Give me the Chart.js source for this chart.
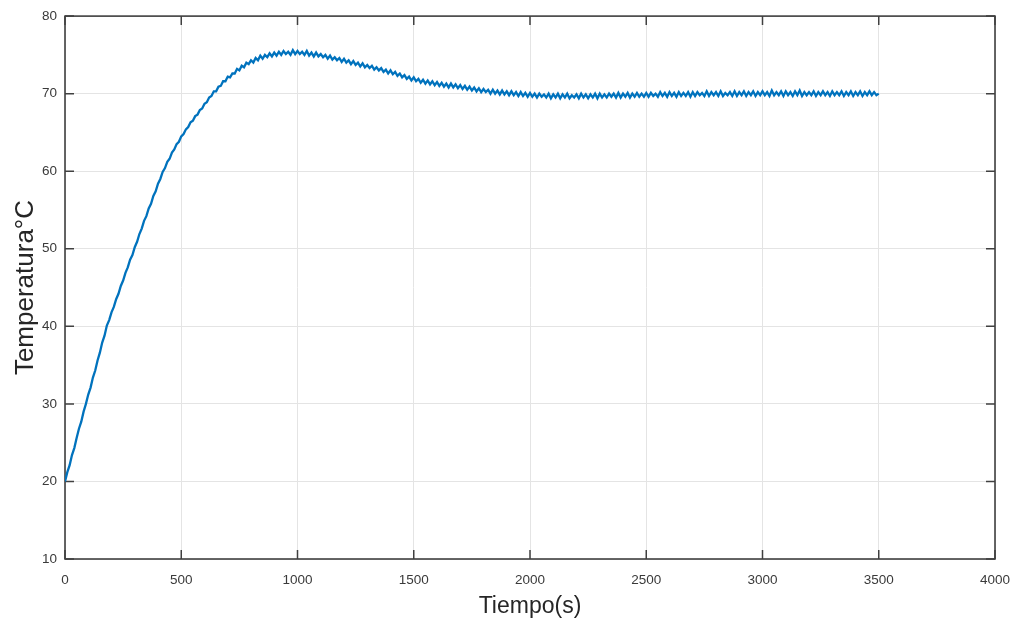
<!DOCTYPE html>
<html>
<head>
<meta charset="utf-8">
<script src="https://cdn.jsdelivr.net/npm/chart.js@4.4.1/dist/chart.umd.min.js"></script>
<style>
  html, body { margin: 0; padding: 0; background: #ffffff; }
  #wrap { width: 1013px; height: 625px; position: relative; }
</style>
</head>
<body>
<div id="wrap"><canvas id="c" width="1013" height="625"></canvas></div>
<script>
// ---- data ----
const timeSeconds = [
  0, 10, 20, 30, 40, 50, 60, 70, 80, 90,
  100, 110, 120, 130, 140, 150, 160, 170, 180, 190,
  200, 210, 220, 230, 240, 250, 260, 270, 280, 290,
  300, 310, 320, 330, 340, 350, 360, 370, 380, 390,
  400, 410, 420, 430, 440, 450, 460, 470, 480, 490,
  500, 510, 520, 530, 540, 550, 560, 570, 580, 590,
  600, 610, 620, 630, 640, 650, 660, 670, 680, 690,
  700, 710, 720, 730, 740, 750, 760, 770, 780, 790,
  800, 810, 820, 830, 840, 850, 860, 870, 880, 890,
  900, 910, 920, 930, 940, 950, 960, 970, 980, 990,
  1000, 1010, 1020, 1030, 1040, 1050, 1060, 1070, 1080, 1090,
  1100, 1110, 1120, 1130, 1140, 1150, 1160, 1170, 1180, 1190,
  1200, 1210, 1220, 1230, 1240, 1250, 1260, 1270, 1280, 1290,
  1300, 1310, 1320, 1330, 1340, 1350, 1360, 1370, 1380, 1390,
  1400, 1410, 1420, 1430, 1440, 1450, 1460, 1470, 1480, 1490,
  1500, 1510, 1520, 1530, 1540, 1550, 1560, 1570, 1580, 1590,
  1600, 1610, 1620, 1630, 1640, 1650, 1660, 1670, 1680, 1690,
  1700, 1710, 1720, 1730, 1740, 1750, 1760, 1770, 1780, 1790,
  1800, 1810, 1820, 1830, 1840, 1850, 1860, 1870, 1880, 1890,
  1900, 1910, 1920, 1930, 1940, 1950, 1960, 1970, 1980, 1990,
  2000, 2010, 2020, 2030, 2040, 2050, 2060, 2070, 2080, 2090,
  2100, 2110, 2120, 2130, 2140, 2150, 2160, 2170, 2180, 2190,
  2200, 2210, 2220, 2230, 2240, 2250, 2260, 2270, 2280, 2290,
  2300, 2310, 2320, 2330, 2340, 2350, 2360, 2370, 2380, 2390,
  2400, 2410, 2420, 2430, 2440, 2450, 2460, 2470, 2480, 2490,
  2500, 2510, 2520, 2530, 2540, 2550, 2560, 2570, 2580, 2590,
  2600, 2610, 2620, 2630, 2640, 2650, 2660, 2670, 2680, 2690,
  2700, 2710, 2720, 2730, 2740, 2750, 2760, 2770, 2780, 2790,
  2800, 2810, 2820, 2830, 2840, 2850, 2860, 2870, 2880, 2890,
  2900, 2910, 2920, 2930, 2940, 2950, 2960, 2970, 2980, 2990,
  3000, 3010, 3020, 3030, 3040, 3050, 3060, 3070, 3080, 3090,
  3100, 3110, 3120, 3130, 3140, 3150, 3160, 3170, 3180, 3190,
  3200, 3210, 3220, 3230, 3240, 3250, 3260, 3270, 3280, 3290,
  3300, 3310, 3320, 3330, 3340, 3350, 3360, 3370, 3380, 3390,
  3400, 3410, 3420, 3430, 3440, 3450, 3460, 3470, 3480, 3490,
  3500
];
const temperature = [
  20.0, 21.2, 22.1, 23.4, 24.3, 25.6, 26.8, 27.7, 29.0, 30.0,
  31.2, 32.1, 33.4, 34.3, 35.6, 36.6, 37.9, 38.8, 40.1, 40.8,
  41.8, 42.5, 43.5, 44.2, 45.2, 45.9, 46.9, 47.6, 48.6, 49.2,
  50.2, 50.9, 51.9, 52.6, 53.6, 54.2, 55.2, 55.8, 56.8, 57.4,
  58.4, 59.0, 59.9, 60.4, 61.2, 61.6, 62.4, 62.8, 63.5, 63.8,
  64.5, 64.8, 65.4, 65.7, 66.3, 66.5, 67.1, 67.3, 67.9, 68.1,
  68.7, 68.9, 69.5, 69.7, 70.3, 70.3, 70.9, 71.0, 71.6, 71.6,
  72.2, 72.1, 72.6, 72.6, 73.2, 73.0, 73.6, 73.4, 74.0, 73.8,
  74.3, 74.0, 74.6, 74.3, 74.9, 74.5, 75.0, 74.7, 75.2, 74.8,
  75.3, 74.9, 75.4, 75.0, 75.5, 75.1, 75.4, 75.0, 75.6, 75.1,
  75.5, 75.1, 75.4, 75.0, 75.5, 74.9, 75.3, 74.8, 75.3, 74.8,
  75.1, 74.7, 75.0, 74.5, 74.9, 74.4, 74.7, 74.3, 74.6, 74.1,
  74.5, 74.0, 74.3, 73.8, 74.2, 73.7, 74.0, 73.5, 73.9, 73.4,
  73.7, 73.3, 73.6, 73.1, 73.4, 73.0, 73.3, 72.8, 73.1, 72.6,
  73.0, 72.5, 72.8, 72.3, 72.6, 72.1, 72.4, 71.9, 72.2, 71.7,
  72.1, 71.6, 71.9, 71.4, 71.8, 71.3, 71.7, 71.2, 71.6, 71.1,
  71.5, 71.0, 71.4, 70.9, 71.3, 70.8, 71.3, 70.8, 71.2, 70.7,
  71.1, 70.6, 71.0, 70.5, 70.9, 70.4, 70.8, 70.3, 70.7, 70.2,
  70.6, 70.2, 70.5, 70.0, 70.5, 70.0, 70.4, 69.9, 70.4, 69.9,
  70.3, 69.8, 70.3, 69.8, 70.2, 69.7, 70.2, 69.7, 70.1, 69.6,
  70.1, 69.6, 70.0, 69.5, 70.0, 69.6, 69.9, 69.5, 70.0, 69.4,
  69.9, 69.5, 70.0, 69.4, 69.9, 69.5, 70.0, 69.4, 69.8, 69.5,
  69.9, 69.4, 70.0, 69.5, 69.9, 69.4, 69.9, 69.5, 70.0, 69.4,
  70.0, 69.5, 69.9, 69.5, 70.0, 69.6, 70.0, 69.5, 70.1, 69.5,
  70.0, 69.6, 70.1, 69.5, 70.0, 69.6, 70.1, 69.6, 70.0, 69.6,
  70.1, 69.6, 70.1, 69.7, 70.0, 69.6, 70.2, 69.7, 70.1, 69.6,
  70.2, 69.7, 70.1, 69.6, 70.2, 69.7, 70.1, 69.7, 70.2, 69.6,
  70.2, 69.7, 70.2, 69.8, 70.1, 69.7, 70.3, 69.7, 70.2, 69.8,
  70.2, 69.7, 70.3, 69.7, 70.1, 69.8, 70.2, 69.7, 70.3, 69.7,
  70.2, 69.8, 70.3, 69.7, 70.2, 69.8, 70.3, 69.7, 70.2, 69.8,
  70.3, 69.8, 70.2, 69.7, 70.4, 69.8, 70.2, 69.8, 70.3, 69.7,
  70.3, 69.8, 70.2, 69.7, 70.3, 69.8, 70.4, 69.7, 70.2, 69.8,
  70.2, 69.8, 70.3, 69.7, 70.2, 69.8, 70.3, 69.8, 70.2, 69.7,
  70.3, 69.8, 70.2, 69.8, 70.3, 69.7, 70.2, 69.8, 70.3, 69.7,
  70.2, 69.8, 70.3, 69.7, 70.2, 69.8, 70.3, 69.8, 70.2, 69.8,
  70.0
];
const xTicks = [0, 500, 1000, 1500, 2000, 2500, 3000, 3500, 4000];
const yTicks = [10, 20, 30, 40, 50, 60, 70, 80];
const xTitle = 'Tiempo(s)';
const yTitle = 'Temperatura°C';

// ---- styling ----
const FONT = '"Liberation Sans", Arial, Helvetica, sans-serif';
const AXIS_COLOR = '#404040';
const TICK_TEXT = '#3a3a3a';
const GRID_COLOR = '#e4e4e4';
const LINE_COLOR = '#0072BD';

const boxPlugin = {
  id: 'matlabBox',
  beforeDatasetsDraw(chart) {
    const { ctx, chartArea: a, scales } = chart;
    const len = 9;
    ctx.save();
    ctx.strokeStyle = AXIS_COLOR;
    ctx.lineWidth = 1.5;
    ctx.beginPath();
    xTicks.forEach(v => {
      const px = scales.x.getPixelForValue(v);
      ctx.moveTo(px, a.bottom); ctx.lineTo(px, a.bottom - len);
      ctx.moveTo(px, a.top); ctx.lineTo(px, a.top + len);
    });
    yTicks.forEach(v => {
      const py = scales.y.getPixelForValue(v);
      ctx.moveTo(a.left, py); ctx.lineTo(a.left + len, py);
      ctx.moveTo(a.right, py); ctx.lineTo(a.right - len, py);
    });
    ctx.stroke();
    ctx.lineWidth = 1.6;
    ctx.strokeRect(a.left, a.top, a.right - a.left, a.bottom - a.top);
    ctx.restore();
  }
};

new Chart(document.getElementById('c'), {
  type: 'line',
  data: {
    datasets: [{
      data: timeSeconds.map((t, i) => ({ x: t, y: temperature[i] })),
      borderColor: LINE_COLOR,
      borderWidth: 2.3,
      pointRadius: 0,
      tension: 0,
      fill: false
    }]
  },
  options: {
    responsive: false,
    animation: false,
    devicePixelRatio: 1,
    layout: { padding: { left: 0, top: 16, right: 18, bottom: 0 } },
    plugins: { legend: { display: false }, tooltip: { enabled: false } },
    scales: {
      x: {
        type: 'linear',
        min: 0, max: 4000,
        afterBuildTicks: s => { s.ticks = xTicks.map(v => ({ value: v })); },
        afterFit: s => { s.height = 66; s.paddingRight = 0; s.paddingLeft = 0; },
        grid: { color: GRID_COLOR, lineWidth: 1, drawTicks: false },
        border: { display: false },
        ticks: { padding: 13, color: TICK_TEXT, font: { family: FONT, size: 13.5 }, maxRotation: 0, autoSkip: false,
                 callback: v => String(v) },
        title: { display: true, text: xTitle, color: '#262626', font: { family: FONT, size: 23 }, padding: { top: 0, bottom: 5 } }
      },
      y: {
        type: 'linear',
        min: 10, max: 80,
        afterBuildTicks: s => { s.ticks = yTicks.map(v => ({ value: v })); },
        afterFit: s => { s.width = 65; },
        grid: { color: GRID_COLOR, lineWidth: 1, drawTicks: false },
        border: { display: false },
        ticks: { padding: 8, color: TICK_TEXT, font: { family: FONT, size: 13.5 }, autoSkip: false,
                 callback: v => String(v) },
        title: { display: true, text: yTitle, color: '#262626', font: { family: FONT, size: 26 }, padding: { top: 10, bottom: 0 } }
      }
    }
  },
  plugins: [boxPlugin]
});
</script>
</body>
</html>
